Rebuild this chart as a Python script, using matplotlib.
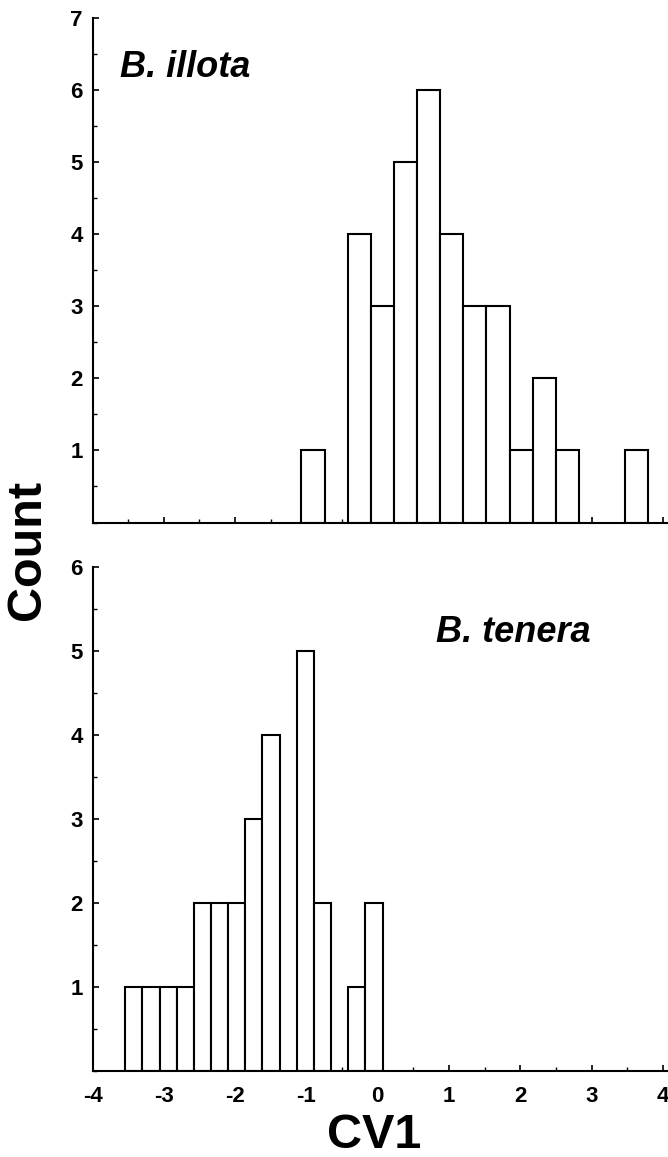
import matplotlib
matplotlib.use("Agg")
import matplotlib.pyplot as plt
import numpy as np
from matplotlib.ticker import MultipleLocator

plt.rcParams['font.family'] = ['Liberation Sans', 'DejaVu Sans']
plt.rcParams['axes.unicode_minus'] = False

# --- data (histogram of CV1 scores) ---
illota_start = -1.071
illota_width = 0.3243
illota_counts = [1, 0, 4, 3, 5, 6, 4, 3, 3, 1, 2, 1, 0, 0, 1]

tenera_start = -3.541
tenera_width = 0.2405
tenera_counts = [1, 1, 1, 1, 2, 2, 2, 3, 4, 0, 5, 2, 0, 1, 2]

x_ticks = [-4, -3, -2, -1, 0, 1, 2, 3, 4]

fig = plt.figure(figsize=(6.68, 11.57), dpi=100)
ax1 = fig.add_axes([0.1385, 0.5484, 0.8615, 0.4358])
ax2 = fig.add_axes([0.1385, 0.0743, 0.8615, 0.4354])


def draw(ax, start, width, counts, ymax):
    counts = np.array(counts)
    lefts = start + width * np.arange(len(counts))
    m = counts > 0
    ax.bar(lefts[m], counts[m], width=width, align='edge',
           facecolor='white', edgecolor='black', linewidth=1.5, zorder=2)
    ax.set_xlim(-4, 4.07)
    ax.set_ylim(0, ymax)
    for s in ['top', 'right']:
        ax.spines[s].set_visible(False)
    for s in ['left', 'bottom']:
        ax.spines[s].set_linewidth(1.5)
        ax.spines[s].set_zorder(3)
    ax.set_xticks(x_ticks)
    ax.xaxis.set_minor_locator(MultipleLocator(0.5))
    ax.set_yticks(list(range(1, ymax + 1)))
    ax.yaxis.set_minor_locator(MultipleLocator(0.5))
    ax.tick_params(which='major', direction='in', length=4, width=1.2)
    ax.tick_params(which='minor', direction='in', length=3, width=1.0)
    ax.tick_params(axis='y', which='major', labelsize=16, pad=7)
    ax.tick_params(axis='x', which='major', labelsize=16, pad=11)
    for lab in ax.get_yticklabels() + ax.get_xticklabels():
        lab.set_fontweight('bold')


draw(ax1, illota_start, illota_width, illota_counts, 7)
draw(ax2, tenera_start, tenera_width, tenera_counts, 6)
ax1.tick_params(axis='x', labelbottom=False)

ax1.text(-3.62, 6.19, 'B. illota', fontsize=26, fontweight='bold',
         fontstyle='italic', ha='left', va='baseline')
ax2.text(0.82, 5.11, 'B. tenera', fontsize=26, fontweight='bold',
         fontstyle='italic', ha='left', va='baseline')

fig.text(374 / 668, 1 - 1135 / 1157, 'CV1', fontsize=35, fontweight='bold',
         ha='center', va='center')
fig.text(28 / 668, 1 - 550 / 1157, 'Count', fontsize=35, fontweight='bold',
         ha='center', va='center', rotation=90)

fig.savefig('out.png', dpi=100)
